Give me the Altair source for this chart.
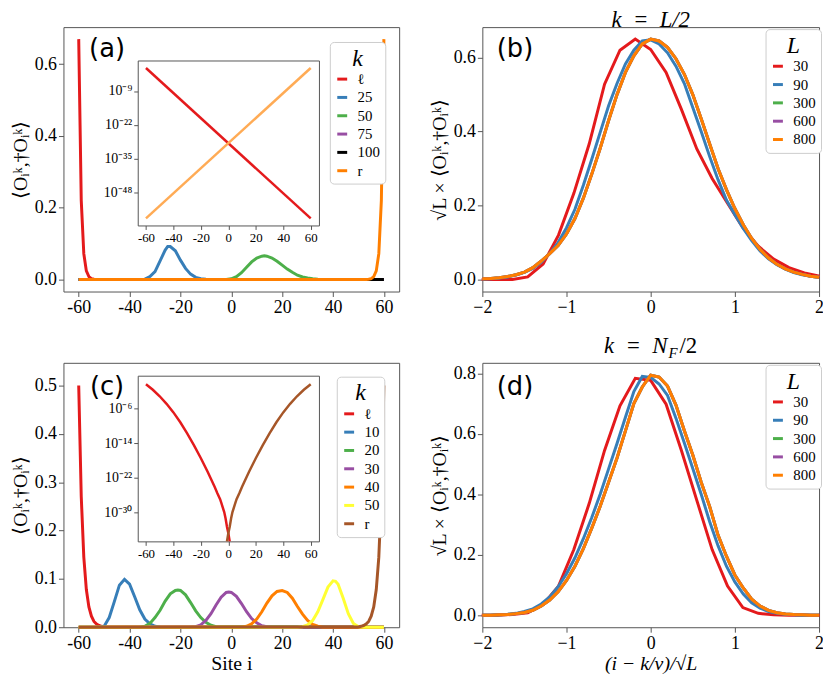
import altair as alt
import pandas as pd

# ---------------- data ----------------
# Panel (a): main curves
A_SERIES = ["ℓ", "25", "50", "75", "100", "r"]
A_COLORS = ["#e41a1c", "#377eb8", "#4daf4a", "#984ea3", "#000000", "#ff7f00"]
A_L_X = [-60, -59, -58, -57, -56, -55, -54, -53, 60]
A_L_Y = [0.67, 0.22, 0.072, 0.024, 0.008, 0.0026, 0.0009, 0.0003, 0.0]
A_25_X = [-60, -36, -34, -32, -30, -28, -26, -25, -24, -22, -20, -18, -16, -14, -12, -10, -8, 60]
A_25_Y = [0, 0, 0.001, 0.008, 0.022, 0.052, 0.082, 0.092, 0.092, 0.08, 0.054, 0.031, 0.015, 0.006, 0.002, 0.0005, 0, 0]
A_50_X = [-60, -2, 0, 2, 4, 6, 8, 10, 12, 13, 14, 16, 18, 20, 22, 24, 26, 28, 30, 32, 34, 60]
A_50_Y = [0, 0, 0.002, 0.008, 0.019, 0.034, 0.049, 0.06, 0.065, 0.066, 0.065, 0.06, 0.051, 0.04, 0.029, 0.02, 0.012, 0.007, 0.004, 0.002, 0.0005, 0]
A_75_X = [-60, 60]
A_75_Y = [0, 0]
A_100_X = [-60, 60]
A_100_Y = [0, 0]
A_R_X = [-60, 53, 54, 55, 56, 57, 58, 59, 60]
A_R_Y = [0.0, 0.0003, 0.0009, 0.0026, 0.008, 0.024, 0.072, 0.22, 0.67]

# Panel (a): inset (log scale)
AI_SERIES = ["ℓ", "r"]
AI_COLORS = ["#e41a1c", "#ffab55"]
AI_L_X = [-60, 60]
AI_L_Y = [0.676, 1.6e-58]
AI_R_X = [-60, 60]
AI_R_Y = [1.6e-58, 0.676]

# Panel (c): main curves
C_SERIES = ["ℓ", "10", "20", "30", "40", "50", "r"]
C_COLORS = ["#e41a1c", "#377eb8", "#4daf4a", "#984ea3", "#ff7f00", "#ffff33", "#a65628"]
C_L_X = [-60, -59, -58, -57, -56, -55, -54, -53, -52, -51, -50, 60]
C_L_Y = [0.5, 0.27, 0.145, 0.078, 0.042, 0.023, 0.012, 0.0065, 0.0035, 0.0019, 0.0006, 0]
C_10_X = [-60, -52, -50, -48, -46, -44, -42, -40, -38, -36, -34, -32, -30, -28, -26, 60]
C_10_Y = [0, 0, 0.002, 0.02, 0.053, 0.087, 0.099, 0.089, 0.063, 0.036, 0.017, 0.007, 0.002, 0.0005, 0, 0]
C_20_X = [-60, -36, -34, -32, -30, -28, -26, -24, -22, -21, -20, -18, -16, -14, -12, -10, -8, -6, 60]
C_20_Y = [0, 0, 0.002, 0.008, 0.02, 0.035, 0.054, 0.069, 0.076, 0.077, 0.076, 0.067, 0.051, 0.034, 0.02, 0.01, 0.004, 0.001, 0]
C_30_X = [-60, -16, -14, -12, -10, -8, -6, -4, -2, -1, 0, 2, 4, 6, 8, 10, 12, 14, 16, 60]
C_30_Y = [0, 0, 0.001, 0.005, 0.014, 0.028, 0.046, 0.062, 0.072, 0.073, 0.072, 0.064, 0.049, 0.032, 0.018, 0.009, 0.003, 0.001, 0, 0]
C_40_X = [-60, 4, 6, 8, 10, 12, 14, 16, 18, 20, 22, 24, 26, 28, 30, 32, 34, 36, 60]
C_40_Y = [0, 0, 0.002, 0.007, 0.017, 0.032, 0.05, 0.065, 0.074, 0.076, 0.072, 0.06, 0.043, 0.027, 0.014, 0.006, 0.002, 0, 0]
C_50_X = [-60, 26, 28, 30, 32, 34, 36, 38, 40, 41, 42, 44, 46, 48, 50, 52, 60]
C_50_Y = [0, 0, 0.001, 0.005, 0.014, 0.032, 0.057, 0.083, 0.096, 0.095, 0.089, 0.06, 0.028, 0.008, 0.001, 0, 0]
C_R_X = [-60, 50, 51, 52, 53, 54, 55, 56, 57, 58, 59, 60]
C_R_Y = [0, 0.0006, 0.0019, 0.0035, 0.0065, 0.012, 0.023, 0.042, 0.078, 0.145, 0.27, 0.5]

# Panel (c): inset (log scale)
CI_SERIES = ["ℓ", "r"]
CI_COLORS = ["#e41a1c", "#a65628"]
CI_L_X = [-60, -55, -50, -45, -40, -35, -30, -25, -20, -15, -10, -8, -6, -5, -3, -2, -1, 0, 1]
CI_L_Y = [0.5, 2.5e-2, 7.9e-4, 1.4e-5, 1.4e-7, 7.1e-10, 2.0e-12, 3.2e-15, 3.2e-18, 2.0e-21,
          7.9e-25, 2.5e-26, 1.0e-27, 1.0e-28, 1.0e-30, 3.2e-32, 4.0e-34, 1.3e-35, 1.6e-37]
CI_R_X = [-1, 0, 1, 2, 3, 5, 6, 8, 10, 15, 20, 25, 30, 35, 40, 45, 50, 55, 60]
CI_R_Y = [1.6e-37, 1.3e-35, 4.0e-34, 3.2e-32, 1.0e-30, 1.0e-28, 1.0e-27, 2.5e-26, 7.9e-25,
          2.0e-21, 3.2e-18, 3.2e-15, 2.0e-12, 7.1e-10, 1.4e-7, 1.4e-5, 7.9e-4, 2.5e-2, 0.5]

# Panels (b) and (d): scaled profiles
L_SERIES = ["30", "90", "300", "600", "800"]
L_COLORS = ["#e41a1c", "#377eb8", "#4daf4a", "#984ea3", "#ff7f00"]
GRID_X = [-2.0, -1.9, -1.8, -1.7, -1.6, -1.5, -1.4, -1.3, -1.2, -1.1, -1.0, -0.9, -0.8, -0.7,
          -0.6, -0.5, -0.4, -0.3, -0.2, -0.1, 0.0, 0.1, 0.2, 0.3, 0.4, 0.5, 0.6, 0.7, 0.8, 0.9,
          1.0, 1.1, 1.2, 1.3, 1.4, 1.5, 1.6, 1.7, 1.8, 1.9, 2.0]
L30_X = [-2.008, -1.826, -1.643, -1.461, -1.278, -1.095, -0.913, -0.730, -0.548, -0.365, -0.183,
         0.0, 0.183, 0.365, 0.548, 0.730, 0.913, 1.095, 1.278, 1.461, 1.643, 1.826, 2.008]

B_30_Y = [0.0, 0.0, 0.0, 0.007, 0.042, 0.12, 0.233, 0.367, 0.528, 0.62, 0.65, 0.622, 0.56, 0.46,
          0.353, 0.273, 0.206, 0.14, 0.09, 0.055, 0.032, 0.018, 0.009]
B_90_Y = [0.001, 0.002, 0.004, 0.007, 0.012, 0.019, 0.03, 0.047, 0.07, 0.1, 0.14, 0.19, 0.255,
          0.325, 0.398, 0.47, 0.53, 0.583, 0.62, 0.645, 0.648, 0.637, 0.613, 0.577, 0.53, 0.465,
          0.40, 0.333, 0.27, 0.215, 0.175, 0.138, 0.105, 0.077, 0.056, 0.04, 0.028, 0.019, 0.013,
          0.009, 0.006]
B_800_Y = [0.002, 0.003, 0.005, 0.008, 0.013, 0.02, 0.032, 0.05, 0.07, 0.092, 0.123, 0.165, 0.22,
           0.285, 0.355, 0.43, 0.50, 0.56, 0.605, 0.637, 0.65, 0.645, 0.628, 0.597, 0.555, 0.50,
           0.435, 0.367, 0.30, 0.243, 0.192, 0.148, 0.111, 0.081, 0.058, 0.041, 0.029, 0.02,
           0.014, 0.009, 0.006]
B_300_Y = B_800_Y
B_600_Y = B_800_Y

D_30_Y = [0.0, 0.0, 0.002, 0.008, 0.035, 0.096, 0.217, 0.37, 0.545, 0.693, 0.784, 0.777, 0.698,
          0.545, 0.38, 0.217, 0.096, 0.025, 0.006, 0.001, 0.0, 0.0, 0.0]
D_90_Y = [0.0, 0.0, 0.001, 0.003, 0.006, 0.012, 0.021, 0.037, 0.06, 0.094, 0.137, 0.19, 0.253,
          0.323, 0.40, 0.484, 0.568, 0.655, 0.74, 0.79, 0.787, 0.765, 0.727, 0.652, 0.57, 0.485,
          0.40, 0.31, 0.23, 0.162, 0.11, 0.07, 0.041, 0.023, 0.012, 0.006, 0.003, 0.001, 0.0,
          0.0, 0.0]
D_800_Y = [0.0, 0.0, 0.001, 0.002, 0.005, 0.009, 0.016, 0.03, 0.05, 0.077, 0.115, 0.162, 0.22,
           0.288, 0.36, 0.44, 0.52, 0.61, 0.70, 0.755, 0.794, 0.788, 0.758, 0.695, 0.61, 0.53,
           0.44, 0.36, 0.265, 0.195, 0.133, 0.09, 0.053, 0.03, 0.016, 0.008, 0.004, 0.002, 0.001,
           0.0, 0.0]
D_300_Y = D_800_Y
D_600_Y = D_800_Y

# ---------------- layout / style ----------------
W, H = 823, 674
FRAME = "#555555"
SERIF = "Liberation Serif"
SANS = "DejaVu Sans"
HYPHEN = "replace(datum.label, '\u2212', '-')"
OBS = "\u27e8O\u1d62\u1d4f,\u2020O\u1d62\u1d4f\u27e9"


def series_df(names, xs_list, ys_list):
    rows = []
    for n, xs, ys in zip(names, xs_list, ys_list):
        for x, y in zip(xs, ys):
            rows.append({"s": n, "x": x, "y": y})
    return pd.DataFrame(rows)


def make_axis(orient, offset, values=None, fmt=None, label_expr=None, title=None,
              size=18, tick=5, labels=True, ticks=True, title_style="normal", title_pad=4):
    kw = dict(orient=orient, offset=offset, grid=False, domainColor=FRAME, domainWidth=1,
              tickColor=FRAME, tickWidth=1, tickSize=tick, labels=labels, ticks=ticks,
              labelFont=SERIF, labelFontSize=size, labelColor="black", labelPadding=2,
              labelFlush=False, labelOverlap=False, titleFont=SERIF, titleFontSize=20,
              titleFontWeight="normal", titleFontStyle=title_style, titleColor="black",
              titlePadding=title_pad, title=title)
    if values is not None:
        kw["values"] = values
    if fmt is not None:
        kw["format"] = fmt
    if label_expr is not None:
        kw["labelExpr"] = label_expr
    return alt.Axis(**kw)


def make_legend(title, x, y):
    return alt.Legend(orient="none", legendX=x, legendY=y, title=title, titleFont=SERIF,
                      titleFontStyle="italic", titleFontWeight="normal", titleFontSize=24,
                      titleAnchor="middle", titleColor="black", titlePadding=1,
                      labelFont=SERIF, labelFontSize=15, labelColor="black", labelOffset=8,
                      symbolType="stroke", symbolStrokeWidth=3, symbolSize=100, rowPadding=2.5,
                      padding=5, strokeColor="#cccccc", fillColor="white", cornerRadius=4)


def panel(df, series, colors, xdom, xr, ydom, yr, xaxis, yaxis, legend, log=False, sw=3):
    xs = alt.Scale(domain=xdom, range=xr, nice=False, zero=False)
    if log:
        ys = alt.Scale(type="log", domain=ydom, range=yr, nice=False)
    else:
        ys = alt.Scale(domain=ydom, range=yr, nice=False, zero=False)
    line = alt.Chart(df).mark_line(strokeWidth=sw).encode(
        x=alt.X("x:Q", scale=xs, axis=xaxis),
        y=alt.Y("y:Q", scale=ys, axis=yaxis),
        color=alt.Color("s:N", scale=alt.Scale(domain=series, range=colors), legend=legend),
    )
    frame = alt.Chart(df).mark_point(opacity=0, size=1).encode(
        x=alt.X("x:Q", scale=xs, axis=make_axis("top", -yr[1], labels=False, ticks=False)),
        y=alt.Y("y:Q", scale=ys, axis=make_axis("right", xr[1] - W, labels=False, ticks=False)),
    )
    return [line, frame]


def label(text, x, y, size, font, style="normal", align="center"):
    return alt.Chart(pd.DataFrame({"t": [text]})).mark_text(
        font=font, fontSize=size, fontStyle=style, align=align, baseline="alphabetic",
        color="black").encode(x=alt.value(x), y=alt.value(y), text="t:N")


SITE_TICKS = [-60, -40, -20, 0, 20, 40, 60]

layers = []

# (a) main
A = dict(xl=56, xr=395, yt=16, yb=283)
df_a = series_df(A_SERIES, [A_L_X, A_25_X, A_50_X, A_75_X, A_100_X, A_R_X],
                 [A_L_Y, A_25_Y, A_50_Y, A_75_Y, A_100_Y, A_R_Y])
layers += panel(df_a, A_SERIES, A_COLORS, [-66, 66], [A["xl"], A["xr"]],
                [-0.0335, 0.7035], [A["yb"], A["yt"]],
                make_axis("bottom", A["yb"] - H, values=SITE_TICKS, label_expr=HYPHEN),
                make_axis("left", -A["xl"], values=[0, 0.2, 0.4, 0.6], fmt=".1f", title=OBS),
                make_legend("k", 325, 31))

# (a) inset
AI = dict(xl=131, xr=314, yt=49.7, yb=216.3)
df_ai = series_df(AI_SERIES, [AI_L_X, AI_R_X], [AI_L_Y, AI_R_Y])
layers += panel(df_ai, AI_SERIES, AI_COLORS, [-66, 66], [AI["xl"], AI["xr"]],
                [10 ** -60.5, 10 ** 2.7], [AI["yb"], AI["yt"]],
                make_axis("bottom", AI["yb"] - H, values=SITE_TICKS, label_expr=HYPHEN,
                          size=13, tick=4),
                make_axis("left", -AI["xl"], values=[1e-9, 1e-22, 1e-35, 1e-48], size=14, tick=4,
                          label_expr="'10' + (datum.value > 1e-15 ? '\u207b\u2079' : datum.value > 1e-28 ? '\u207b\u00b2\u00b2' : datum.value > 1e-41 ? '\u207b\u00b3\u2075' : '\u207b\u2074\u2078')"),
                None, log=True, sw=2.5)

# (b)
B = dict(xl=479, xr=819, yt=16, yb=283)
df_b = series_df(L_SERIES, [L30_X, GRID_X, GRID_X, GRID_X, GRID_X],
                 [B_30_Y, B_90_Y, B_300_Y, B_600_Y, B_800_Y])
layers += panel(df_b, L_SERIES, L_COLORS, [-2, 2], [B["xl"], B["xr"]],
                [-0.0325, 0.6825], [B["yb"], B["yt"]],
                make_axis("bottom", B["yb"] - H, values=[-2, -1, 0, 1, 2], fmt="d"),
                make_axis("left", -B["xl"], values=[0, 0.2, 0.4, 0.6], fmt=".1f",
                          title="\u221aL \u00d7 " + OBS),
                make_legend("L", 765, 18))

# (c) main
C = dict(xl=56, xr=395, yt=355, yb=622)
df_c = series_df(C_SERIES, [C_L_X, C_10_X, C_20_X, C_30_X, C_40_X, C_50_X, C_R_X],
                 [C_L_Y, C_10_Y, C_20_Y, C_30_Y, C_40_Y, C_50_Y, C_R_Y])
layers += panel(df_c, C_SERIES, C_COLORS, [-66, 66], [C["xl"], C["xr"]],
                [0, 0.547], [C["yb"], C["yt"]],
                make_axis("bottom", C["yb"] - H, values=SITE_TICKS, label_expr=HYPHEN,
                          title="Site i", title_pad=2),
                make_axis("left", -C["xl"], values=[0, 0.1, 0.2, 0.3, 0.4, 0.5], fmt=".1f",
                          title=OBS),
                make_legend("k", 332, 369))

# (c) inset
CI = dict(xl=131, xr=314, yt=368, yb=535.3)
df_ci = series_df(CI_SERIES, [CI_L_X, CI_R_X], [CI_L_Y, CI_R_Y])
layers += panel(df_ci, CI_SERIES, CI_COLORS, [-66, 66], [CI["xl"], CI["xr"]],
                [10 ** -36.8, 10 ** 1.67], [CI["yb"], CI["yt"]],
                make_axis("bottom", CI["yb"] - H, values=SITE_TICKS, label_expr=HYPHEN,
                          size=13, tick=4),
                make_axis("left", -CI["xl"], values=[1e-6, 1e-14, 1e-22, 1e-30], size=14, tick=4,
                          label_expr="'10' + (datum.value > 1e-10 ? '\u207b\u2076' : datum.value > 1e-18 ? '\u207b\u00b9\u2074' : datum.value > 1e-26 ? '\u207b\u00b2\u00b2' : '\u207b\u00b3\u2070')"),
                None, log=True, sw=2.5)

# (d)
D = dict(xl=479, xr=819, yt=355, yb=622)
df_d = series_df(L_SERIES, [L30_X, GRID_X, GRID_X, GRID_X, GRID_X],
                 [D_30_Y, D_90_Y, D_300_Y, D_600_Y, D_800_Y])
layers += panel(df_d, L_SERIES, L_COLORS, [-2, 2], [D["xl"], D["xr"]],
                [-0.04, 0.835], [D["yb"], D["yt"]],
                make_axis("bottom", D["yb"] - H, values=[-2, -1, 0, 1, 2], fmt="d",
                          title="(i \u2212 k/\u03bd)/\u221aL", title_style="italic", title_pad=2),
                make_axis("left", -D["xl"], values=[0, 0.2, 0.4, 0.6, 0.8], fmt=".1f",
                          title="\u221aL \u00d7 " + OBS),
                make_legend("L", 765, 357))

# annotations
layers += [
    label("(a)", 100, 46, 26, SANS),
    label("(b)", 512, 46, 26, SANS),
    label("(c)", 100, 387, 26, SANS),
    label("(d)", 512, 387, 26, SANS),
    label("k\u2002=\u2002L/2", 649, 16, 23, SERIF, "italic"),
    label("k\u2002=\u2002N", 666, 345, 23, SERIF, "italic", "right"),
    label("F", 667, 350, 15, SERIF, "italic", "left"),
    label("/2", 678, 345, 23, SERIF, "normal", "left"),
]

chart = (
    alt.layer(*layers)
    .resolve_scale(x="independent", y="independent", color="independent")
    .resolve_axis(x="independent", y="independent")
    .resolve_legend(color="independent")
    .properties(width=W, height=H, autosize=alt.AutoSizeParams(type="none"), padding=0)
    .configure_view(stroke=None)
    .configure_axis(labelFont=SERIF, titleFont=SERIF)
    .configure_legend(labelFont=SERIF, titleFont=SERIF)
    .configure_text(font=SERIF)
)

chart.save("out.html", embed_options={"renderer": "svg", "actions": False})
